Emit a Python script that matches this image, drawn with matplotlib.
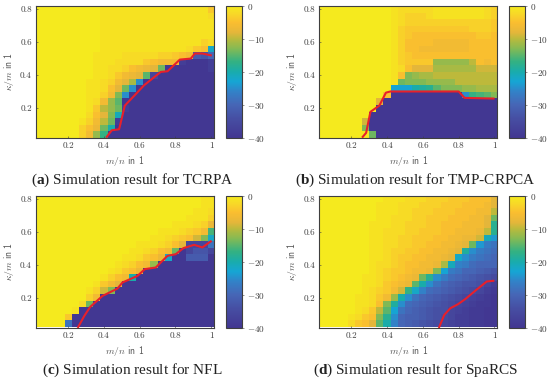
import matplotlib
matplotlib.use("Agg")
import matplotlib.pyplot as plt
import numpy as np
from matplotlib.colors import LinearSegmentedColormap

plt.rcParams['mathtext.fontset'] = 'cm'
plt.rcParams['mathtext.rm'] = 'Liberation Serif'
plt.rcParams['mathtext.bf'] = 'Liberation Serif:bold'

cmap_stops = [
(0.000,(66,55,146)),(0.125,(70,75,160)),(0.25,(70,102,182)),(0.35,(50,130,200)),
(0.425,(22,165,212)),(0.50,(25,172,172)),(0.575,(50,177,132)),(0.675,(130,186,85)),
(0.75,(187,186,60)),(0.80,(228,182,58)),(0.875,(250,190,48)),(0.94,(248,215,40)),(1.0,(245,234,30))]
parula = LinearSegmentedColormap.from_list(
    "parula_like", [(p, tuple(v/255 for v in c)) for p, c in cmap_stops], N=256)

# rows bottom (kappa/m = 0.04) to top (0.80), values in dB
tcrpa = [
[0,0,0,0,0,0,-3,-6,-12,-17,-40,-40,-40,-40,-40,-40,-40,-40,-40,-40,-40,-40,-40,-40,-40],
[0,0,0,0,0,0,-3,-5,-7,-14,-20,-40,-40,-40,-40,-40,-40,-40,-40,-40,-40,-40,-40,-40,-40],
[0,0,0,0,0,0,-1,-3,-6,-10,-14,-38,-40,-40,-40,-40,-40,-40,-40,-40,-40,-40,-40,-40,-40],
[0,0,0,0,0,0,0,-2,-5,-8,-13,-21,-40,-40,-40,-40,-40,-40,-40,-40,-40,-40,-40,-40,-40],
[0,0,0,0,0,0,0,-1,-4,-10,-12,-14,-38,-40,-40,-40,-40,-40,-40,-40,-40,-40,-40,-40,-40],
[0,0,0,0,0,0,0,-1,-2,-6,-12,-15,-40,-40,-40,-40,-40,-40,-40,-40,-40,-40,-40,-40,-40],
[0,0,0,0,0,0,0,-1,-1,-3,-6,-13,-25,-40,-40,-40,-40,-40,-40,-40,-40,-40,-40,-40,-40],
[0,0,0,0,0,0,0,-1,-1,-2,-5,-8,-14,-25,-40,-40,-40,-40,-40,-40,-40,-40,-40,-40,-40],
[0,0,0,0,0,0,0,-1,-1,-2,-3,-6,-8,-11,-25,-40,-40,-40,-40,-40,-40,-40,-40,-40,-40],
[0,0,0,0,0,0,0,0,-1,-1,-2,-4,-6,-7,-8,-15,-36,-40,-40,-40,-40,-40,-40,-40,-40],
[0,0,0,0,0,0,0,0,-1,-1,-2,-2,-3,-5,-6,-7,-8,-14,-40,-40,-40,-40,-40,-40,-38],
[0,0,0,0,0,0,0,0,-1,-1,-1,-2,-2,-2,-2,-4,-5,-6,-6,-6,-38,-40,-40,-40,-38],
[0,0,0,0,0,0,0,0,-1,-1,-1,-1,-2,-2,-2,-2,-2,-3,-3,-4,-5,-6,-32,-33,-30],
[0,0,0,0,0,0,0,0,0,-1,-1,-1,-1,-1,-1,-1,-1,-1,-1,-1,-1,-2,-4,-5,-22],
[0,0,0,0,0,0,0,0,0,-1,-1,-1,-1,-1,-1,-1,-1,-1,-1,-1,-1,-1,-1,-3,-2],
[0,0,0,0,0,0,0,0,0,-1,-1,-1,-1,-1,-1,-1,-1,-1,-1,-1,-1,-1,-1,-1,-1],
[0,0,0,0,0,0,0,0,0,-1,-1,-1,-1,-1,-1,-1,-1,-1,-1,-1,-1,-1,-1,-1,-1],
[0,0,0,0,0,0,0,0,0,-1,-1,-1,-1,-1,-1,-1,-1,-1,-1,-1,-1,-1,-1,-1,-1],
[0,0,0,0,0,0,0,0,0,-1,-1,-1,-1,-1,-1,-1,-1,-1,-1,-1,-1,-1,-1,-1,-2],
[0,0,0,0,0,0,0,0,0,-1,-1,-1,-1,-1,-1,-1,-1,-1,-1,-1,-1,-1,-1,-1,-4],
]
tmp_crpca = [
[0,0,0,0,0,0,0,-14,-40,-40,-40,-40,-40,-40,-40,-40,-40,-40,-40,-40,-40,-40,-40,-40,-40],
[0,0,0,0,0,0,-13,-40,-40,-40,-40,-40,-40,-40,-40,-40,-40,-40,-40,-40,-40,-40,-40,-40,-40],
[0,0,0,0,0,0,-9,-40,-40,-40,-40,-40,-40,-40,-40,-40,-40,-40,-40,-40,-40,-40,-40,-40,-40],
[0,0,0,0,0,0,0,-40,-40,-40,-40,-40,-40,-40,-40,-40,-40,-40,-40,-40,-40,-40,-40,-40,-40],
[0,0,0,0,0,0,0,0,-40,-40,-40,-40,-40,-40,-40,-40,-40,-40,-40,-40,-40,-40,-40,-40,-40],
[0,0,0,0,0,0,0,0,-8,-40,-40,-40,-40,-40,-40,-40,-40,-40,-40,-40,-40,-40,-40,-40,-40],
[0,0,0,0,0,0,0,0,0,-5,-40,-40,-40,-40,-40,-40,-40,-40,-40,-40,-25,-17,-16,-15,-13],
[0,0,0,0,0,0,0,0,0,0,-23,-23,-23,-20,-19,-18,-15,-13,-13,-13,-12,-12,-11,-11,-11],
[0,0,0,0,0,0,0,0,0,0,-1,-14,-13,-13,-13,-12,-12,-12,-12,-10,-10,-10,-10,-10,-10],
[0,0,0,0,0,0,0,0,0,0,-1,-5,-13,-12,-11,-11,-10,-10,-10,-10,-10,-10,-10,-10,-10],
[0,0,0,0,0,0,0,0,0,0,-1,-2,-5,-8,-8,-8,-11,-11,-11,-11,-11,-11,-9,-9,-9],
[0,0,0,0,0,0,0,0,0,0,-1,-3,-4,-4,-4,-4,-12,-12,-12,-12,-12,-10,-5,-6,-5],
[0,0,0,0,0,0,0,0,0,0,-1,-3,-4,-5,-5,-5,-5,-5,-5,-5,-5,-5,-5,-5,-5],
[0,0,0,0,0,0,0,0,0,0,-1,-3,-5,-5,-6,-6,-6,-6,-6,-6,-6,-5,-5,-5,-5],
[0,0,0,0,0,0,0,0,0,0,-1,-3,-5,-5,-5,-5,-6,-6,-6,-6,-6,-5,-5,-5,-5],
[0,0,0,0,0,0,0,0,0,0,-1,-3,-4,-5,-5,-5,-5,-5,-5,-5,-5,-5,-4,-4,-5],
[0,0,0,0,0,0,0,0,0,0,-1,-3,-4,-4,-4,-4,-4,-4,-4,-4,-4,-3,-3,-3,-4],
[0,0,0,0,0,0,0,0,0,0,-1,-2,-3,-3,-3,-3,-3,-3,-3,-3,-3,-3,-3,-3,-4],
[0,0,0,0,0,0,0,0,0,0,-1,-2,-3,-3,-3,-2,-1,-1,-1,-1,-1,-1,-1,-2,-3],
[0,0,0,0,0,0,0,0,0,0,-1,-2,-2,-2,-2,-2,-1,-1,-1,-1,-1,-1,-1,-2,-3],
]
nfl = [
[0,0,0,0,-28,-40,-40,-40,-40,-40,-40,-40,-40,-40,-40,-40,-40,-40,-40,-40,-40,-40,-40,-40,-40],
[0,0,0,0,-4,-40,-40,-40,-40,-40,-40,-40,-40,-40,-40,-40,-40,-40,-40,-40,-40,-40,-40,-40,-40],
[0,0,0,0,0,-1,-40,-40,-40,-40,-40,-40,-40,-40,-40,-40,-40,-40,-40,-40,-40,-40,-40,-40,-40],
[0,0,0,0,0,0,-2,-14,-40,-40,-40,-40,-40,-40,-40,-40,-40,-40,-40,-40,-40,-40,-40,-40,-40],
[0,0,0,0,0,0,0,-3,-6,-40,-40,-40,-40,-40,-40,-40,-40,-40,-40,-40,-40,-40,-40,-40,-40],
[0,0,0,0,0,0,0,-1,-3,-9,-13,-40,-40,-40,-40,-40,-40,-40,-40,-40,-40,-40,-40,-40,-40],
[0,0,0,0,0,0,0,0,-1,-4,-6,-8,-40,-40,-40,-40,-40,-40,-40,-40,-40,-40,-40,-40,-40],
[0,0,0,0,0,0,0,0,0,-1,-3,-5,-6,-20,-40,-40,-40,-40,-40,-40,-40,-40,-40,-40,-40],
[0,0,0,0,0,0,0,0,0,0,-1,-2,-4,-5,-7,-40,-40,-40,-40,-40,-40,-40,-40,-40,-40],
[0,0,0,0,0,0,0,0,0,0,0,-1,-2,-3,-5,-6,-12,-40,-40,-40,-40,-40,-40,-40,-40],
[0,0,0,0,0,0,0,0,0,0,0,0,-1,-1,-2,-4,-5,-7,-22,-40,-40,-32,-32,-32,-40],
[0,0,0,0,0,0,0,0,0,0,0,0,0,-1,-1,-2,-3,-5,-6,-14,-40,-36,-33,-33,-36],
[0,0,0,0,0,0,0,0,0,0,0,0,0,0,-1,-1,-1,-2,-3,-5,-8,-36,-36,-36,-28],
[0,0,0,0,0,0,0,0,0,0,0,0,0,0,0,0,-1,-1,-2,-3,-4,-5,-9,-13,-22],
[0,0,0,0,0,0,0,0,0,0,0,0,0,0,0,0,0,-1,-1,-1,-2,-3,-4,-6,-16],
[0,0,0,0,0,0,0,0,0,0,0,0,0,0,0,0,0,0,0,-1,-1,-1,-2,-3,-7],
[0,0,0,0,0,0,0,0,0,0,0,0,0,0,0,0,0,0,0,0,0,-1,-1,-1,-3],
[0,0,0,0,0,0,0,0,0,0,0,0,0,0,0,0,0,0,0,0,0,0,-1,-1,-2],
[0,0,0,0,0,0,0,0,0,0,0,0,0,0,0,0,0,0,0,0,0,0,0,-1,-1],
[0,0,0,0,0,0,0,0,0,0,0,0,0,0,0,0,0,0,0,0,0,0,0,-1,-1],
]
sparcs = [
[0,0,0,0,-2,-4,-5,-8,-15,-20,-26,-30,-31,-32,-33,-34,-35,-36,-37,-38,-38,-39,-39,-40,-40],
[0,0,0,0,-1,-2,-4,-5,-13,-18,-25,-30,-31,-31,-32,-33,-34,-35,-36,-38,-38,-39,-39,-40,-40],
[0,0,0,0,0,-1,-2,-4,-10,-15,-23,-28,-30,-31,-32,-33,-34,-34,-36,-37,-38,-39,-39,-40,-40],
[0,0,0,0,0,-1,-1,-2,-5,-13,-19,-25,-29,-30,-31,-32,-33,-34,-35,-36,-37,-38,-39,-39,-40],
[0,0,0,0,0,-1,-1,-2,-4,-6,-12,-20,-25,-28,-30,-31,-32,-33,-34,-35,-36,-37,-38,-39,-40],
[0,0,0,0,0,0,-1,-2,-3,-4,-6,-9,-17,-22,-26,-29,-30,-31,-32,-33,-34,-35,-36,-38,-39],
[0,0,0,0,0,0,-1,-1,-2,-4,-5,-6,-7,-15,-20,-25,-28,-30,-31,-32,-33,-33,-34,-36,-38],
[0,0,0,0,0,0,-1,-1,-2,-3,-4,-5,-6,-7,-14,-18,-25,-27,-29,-30,-31,-32,-33,-34,-35],
[0,0,0,0,0,0,0,-1,-2,-3,-4,-4,-5,-6,-6,-7,-13,-23,-27,-28,-30,-30,-31,-32,-33],
[0,0,0,0,0,0,0,-1,-2,-2,-3,-4,-5,-5,-6,-6,-7,-11,-21,-26,-27,-29,-30,-30,-30],
[0,0,0,0,0,0,0,-1,-1,-2,-3,-4,-4,-5,-5,-6,-6,-7,-8,-22,-25,-27,-28,-29,-30],
[0,0,0,0,0,0,0,-1,-1,-2,-3,-3,-4,-4,-5,-5,-6,-6,-7,-8,-19,-25,-27,-28,-29],
[0,0,0,0,0,0,0,-1,-1,-2,-2,-3,-3,-4,-4,-5,-5,-6,-6,-7,-8,-14,-24,-27,-28],
[0,0,0,0,0,0,0,-1,-1,-2,-2,-3,-3,-4,-4,-4,-5,-5,-6,-6,-7,-7,-9,-21,-24],
[0,0,0,0,0,0,0,-1,-1,-2,-2,-2,-3,-3,-4,-4,-4,-5,-5,-6,-6,-6,-7,-10,-18],
[0,0,0,0,0,0,0,-1,-1,-1,-2,-2,-3,-3,-3,-4,-4,-5,-5,-5,-6,-6,-6,-8,-18],
[0,0,0,0,0,0,0,0,-1,-1,-2,-2,-2,-3,-3,-4,-4,-4,-5,-5,-5,-6,-6,-8,-14],
[0,0,0,0,0,0,0,0,-1,-1,-1,-2,-2,-3,-3,-3,-4,-4,-4,-5,-5,-5,-6,-6,-10],
[0,0,0,0,0,0,0,0,-1,-1,-1,-2,-2,-2,-3,-3,-3,-4,-4,-4,-5,-5,-5,-6,-8],
[0,0,0,0,0,0,0,0,0,-1,-1,-1,-2,-2,-2,-3,-3,-3,-4,-4,-4,-5,-5,-5,-8],
]

tcrpa_x = [.416,.444,.485,.517,.56,.625,.718,.756,.825,.886,.909,.951,.998]
tcrpa_y = [.024,.064,.07,.214,.263,.338,.419,.423,.494,.5,.531,.531,.52]
tmp_x = [.263,.282,.306,.327,.356,.393,.418,.80,.833,.995]
tmp_y = [.024,.048,.176,.192,.214,.293,.30,.30,.261,.257]
nfl_x = [.256,.29,.323,.392,.476,.504,.588,.629,.69,.756,.802,.845,.905,.951,.998]
nfl_y = [.023,.09,.145,.212,.257,.294,.334,.375,.385,.456,.466,.503,.523,.507,.544]
sparcs_x = [.691,.719,.753,.795,.836,.892,.957,.994]
sparcs_y = [.023,.096,.137,.161,.192,.243,.30,.304]

captions = ["Simulation result for TCRPA", "Simulation result for TMP-CRPCA",
            "Simulation result for NFL", "Simulation result for SpaRCS"]
letters = ["a", "b", "c", "d"]
x_ticks = [0.2, 0.4, 0.6, 0.8, 1.0]
x_ticklabels = ["0.2", "0.4", "0.6", "0.8", "1"]
y_ticks = [0.2, 0.4, 0.6, 0.8]
y_ticklabels = ["0.2", "0.4", "0.6", "0.8"]
c_ticks = [0, -10, -20, -30, -40]
c_ticklabels = ["$0$", "$-10$", "$-20$", "$-30$", "$-40$"]

W, H = 550, 382
fig = plt.figure(figsize=(W/100, H/100), dpi=100)
FG = "#3f3f3f"
TF = "cmr10"

def box(l, t, r, b):
    return [l/W, 1-b/H, (r-l)/W, (b-t)/H]

layout = [(36.0, 6.0, 0), (319.3, 6.0, 1), (36.0, 196.0, 2), (319.3, 196.0, 3)]
data = [tcrpa, tmp_crpca, nfl, sparcs]
lines = [(tcrpa_x, tcrpa_y), (tmp_x, tmp_y), (nfl_x, nfl_y), (sparcs_x, sparcs_y)]

for (l, t, i) in layout:
    ax = fig.add_axes(box(l, t, l+177.8, t+131.5))
    im = ax.imshow(np.array(data[i], float), origin="lower", aspect="auto", cmap=parula,
                   vmin=-40, vmax=0, extent=[0.02, 1.02, 0.02, 0.82], interpolation="nearest")
    ax.plot(lines[i][0], lines[i][1], color="#e8202a", lw=1.5, solid_joinstyle="round")
    ax.set_xlim(0.02, 1.015); ax.set_ylim(0.02, 0.82)
    ax.set_xticks(x_ticks); ax.set_xticklabels(x_ticklabels, family=TF, fontsize=6.6, color=FG)
    ax.set_yticks(y_ticks); ax.set_yticklabels(y_ticklabels, family=TF, fontsize=6.6, color=FG)
    ax.tick_params(length=1.2, width=0.4, color=FG, direction="in", pad=3)
    for s in ax.spines.values():
        s.set_color(FG); s.set_linewidth(0.8)
    ax.set_xlabel(r"$m/n$ in 1", fontsize=7, color="#555555", family="cmss10", labelpad=3)
    ax.set_ylabel(r"$\kappa/m$ in 1", fontsize=7, color="#555555", family="cmss10", labelpad=3)

    cax = fig.add_axes(box(l+189.8, t, l+206.0, t+131.5))
    cb = fig.colorbar(im, cax=cax)
    cb.set_ticks(c_ticks); cb.set_ticklabels(c_ticklabels)
    for lab in cax.get_yticklabels():
        lab.set_fontsize(6.6); lab.set_color(FG)
    cax.tick_params(length=1.5, width=0.4, color=FG, pad=2)
    cb.outline.set_edgecolor(FG); cb.outline.set_linewidth(0.8)

    cx = l - 36.0 + 132.5
    cap_y = t + 174.0
    fig.text(cx/W, 1-cap_y/H, r"($\mathbf{%s}$) %s" % (letters[i], captions[i]),
             ha="center", va="center", family="Liberation Serif", fontsize=11,
             color="#222222", math_fontfamily="custom")

fig.savefig("out.png", dpi=100)
